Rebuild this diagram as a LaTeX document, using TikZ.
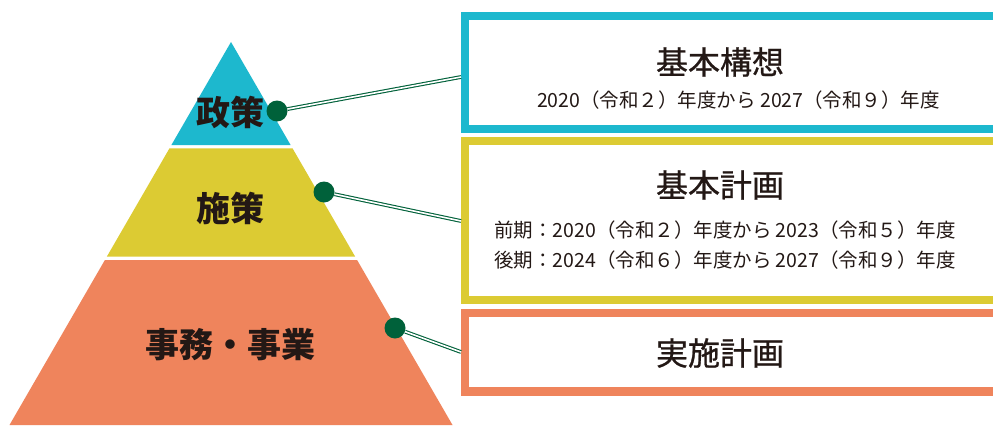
\documentclass[tikz,border=0pt]{standalone}
\usepackage{fontspec}
\newfontfamily\jp{Noto Sans CJK JP}
\newfontfamily\jpm[FakeBold=0.8]{Noto Sans CJK JP}
\definecolor{pcyan}{HTML}{1DB8CE}
\definecolor{pyel}{HTML}{DCCB33}
\definecolor{porg}{HTML}{EF845C}
\definecolor{dgreen}{HTML}{00613A}
\definecolor{ink}{HTML}{231815}
\tikzset{
  plabel/.style={font=\jp\bfseries\fontsize{34}{34}\selectfont, text=ink, inner sep=0pt},
  title/.style={font=\jpm\fontsize{32}{32}\selectfont, text=ink, inner sep=0pt},
  sub/.style={font=\jp\fontsize{19.5}{19.5}\selectfont, text=ink, inner sep=0pt},
  dot/.style={circle, fill=dgreen, minimum size=21pt, inner sep=0pt},
  conn/.style={draw=dgreen, line width=1.1pt, double=white, double distance=1.6pt},
  plate/.style={draw=#1, line width=8.5pt, fill=white, minimum width=545pt, inner sep=0pt, rectangle}
}
\begin{document}
\begin{tikzpicture}[x=1pt,y=-1pt]
\clip (0,0) rectangle (993,428);
\fill[white] (0,0) rectangle (993,428);
% pyramid
\fill[pcyan] (231,42) -- (290.6,145) -- (171.4,145) -- cycle;
\fill[pyel] (169.5,148.3) -- (292.5,148.3) -- (355.2,256.7) -- (106.8,256.7) -- cycle;
\fill[porg] (104.9,260) -- (357.1,260) -- (452.5,425) -- (9.5,425) -- cycle;
\node[plabel] (L1) at (230,112) {政策};
\node[plabel] (L2) at (230,208) {施策};
\node[plabel] (L3) at (230,345) {事務・事業};
% dots
\node[dot] (d1) at (277,111) {};
\node[dot] (d2) at (324,192) {};
\node[dot] (d3) at (395,328) {};
% boxes
\node[plate=pcyan, minimum height=113pt] (B1) at (737.5,72.5) {};
\node[plate=pyel, minimum height=159pt] (B2) at (737.5,220.5) {};
\node[plate=porg, minimum height=78.5pt] (B3) at (737.5,352.2) {};
% connectors
\coordinate (e1) at (461,77);
\coordinate (e2) at (461,221);
\coordinate (e3) at (461,352);
\draw[conn] (d1) -- (e1);
\draw[conn] (d2) -- (e2);
\draw[conn] (d3) -- (e3);
% texts
\node[title] (T1) at (720,62) {基本構想};
\node[sub] (S1) at (738.5,100) {2020（令和２）年度から 2027（令和９）年度};
\node[title] (T2) at (720,185) {基本計画};
\node[sub] (S2) at (725,230) {前期：2020（令和２）年度から 2023（令和５）年度};
\node[sub] (S3) at (725,260) {後期：2024（令和６）年度から 2027（令和９）年度};
\node[title] (T3) at (720,353) {実施計画};
\end{tikzpicture}
\end{document}
